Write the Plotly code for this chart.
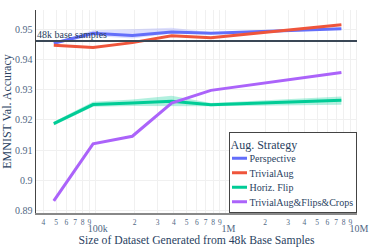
import plotly.graph_objects as go

sizes = [48000, 96000, 192000, 384000, 768000, 7680000]

series_names = ["Perspective", "TrivialAug", "Horiz. Flip", "TrivialAug&Flips&Crops"]
colors = ["#636efa", "#EF553B", "#00cc96", "#ab63fa"]
fills = ["rgba(99,110,250,0.22)", "rgba(239,85,59,0.22)", "rgba(0,204,150,0.3)", "rgba(171,99,250,0.22)"]

perspective = [0.9454, 0.9487, 0.9480, 0.9491, 0.9487, 0.9502]
perspective_hi = [0.9457, 0.9497, 0.9500, 0.9505, 0.9490, 0.9505]
perspective_lo = [0.9451, 0.9478, 0.9470, 0.9486, 0.9484, 0.9499]

trivialaug = [0.9447, 0.9440, 0.9456, 0.9479, 0.9472, 0.9515]
trivialaug_hi = [0.9449, 0.9442, 0.9458, 0.9481, 0.9474, 0.9517]
trivialaug_lo = [0.9445, 0.9438, 0.9454, 0.9477, 0.9470, 0.9513]

hflip = [0.9188, 0.9251, 0.9256, 0.9262, 0.9250, 0.9265]
hflip_hi = [0.9194, 0.9260, 0.9268, 0.9280, 0.9256, 0.9278]
hflip_lo = [0.9182, 0.9244, 0.9246, 0.9246, 0.9245, 0.9250]

combo = [0.8932, 0.9121, 0.9146, 0.9256, 0.9298, 0.9357]
combo_hi = [0.8934, 0.9123, 0.9148, 0.9258, 0.9300, 0.9359]
combo_lo = [0.8930, 0.9119, 0.9144, 0.9254, 0.9296, 0.9355]

base_acc = 0.9461

data = [
    (perspective, perspective_hi, perspective_lo),
    (trivialaug, trivialaug_hi, trivialaug_lo),
    (hflip, hflip_hi, hflip_lo),
    (combo, combo_hi, combo_lo),
]

S = 2  # figure drawn at 2x and displayed at half size

fig = go.Figure()
for name, col, fc, (m, hi, lo) in zip(series_names, colors, fills, data):
    fig.add_trace(go.Scatter(x=sizes, y=hi, mode="lines", line=dict(width=0, color=col),
                             showlegend=False, hoverinfo="skip"))
    fig.add_trace(go.Scatter(x=sizes, y=lo, mode="lines", line=dict(width=0, color=col),
                             fill="tonexty", fillcolor=fc, showlegend=False, hoverinfo="skip"))
    fig.add_trace(go.Scatter(x=sizes, y=m, mode="lines", name=name, line=dict(width=3 * S, color=col)))

fig.add_hline(y=base_acc, line=dict(color="#3a4756", width=2 * S),
              annotation_text="48k base samples", annotation_position="top left",
              annotation_font=dict(size=10 * S, color="#2a3f5f", family="Liberation Serif"))

fig.update_layout(
    width=373 * S, height=249 * S,
    template="plotly_white",
    font=dict(family="Liberation Serif", size=11 * S, color="#2a3f5f"),
    margin=dict(l=36 * S, r=16 * S, t=10 * S, b=36 * S, autoexpand=False),
    legend=dict(x=1, y=0, xanchor="right", yanchor="bottom",
                bordercolor="#444", borderwidth=S, bgcolor="white",
                font=dict(size=10 * S), title=dict(text="Aug. Strategy", font=dict(size=12 * S)),
                traceorder="normal", tracegroupgap=0),
    showlegend=True,
)
fig.update_xaxes(type="log", range=[4.545, 7.005], dtick="D1", automargin=False,
                 title=dict(text="Size of Dataset Generated from 48k Base Samples",
                            font=dict(size=11.7 * S), standoff=3 * S),
                 tickfont=dict(size=10 * S, color="#506784"),
                 showline=True, linecolor="#888", linewidth=2 * S,
                 gridcolor="#f0f0f0", gridwidth=S, zeroline=False)
fig.update_yaxes(range=[0.8892, 0.9564], dtick=0.01, automargin=False,
                 title=dict(text="EMNIST Val. Accuracy", font=dict(size=12 * S), standoff=2 * S),
                 tickfont=dict(size=10 * S, color="#506784"),
                 showline=True, linecolor="#444", linewidth=1.5 * S,
                 gridcolor="#f0f0f0", gridwidth=S, zeroline=False)

post = """
document.documentElement.style.overflow = 'hidden';
document.body.style.margin = '0';
document.body.style.overflow = 'hidden';
var gd = document.getElementById('{plot_id}');
var c = gd.parentElement;
c.style.transformOrigin = '0 0';
c.style.transform = 'scale(0.5)';
"""

fig.write_html("out.html", post_script=post, config={"displayModeBar": False})
